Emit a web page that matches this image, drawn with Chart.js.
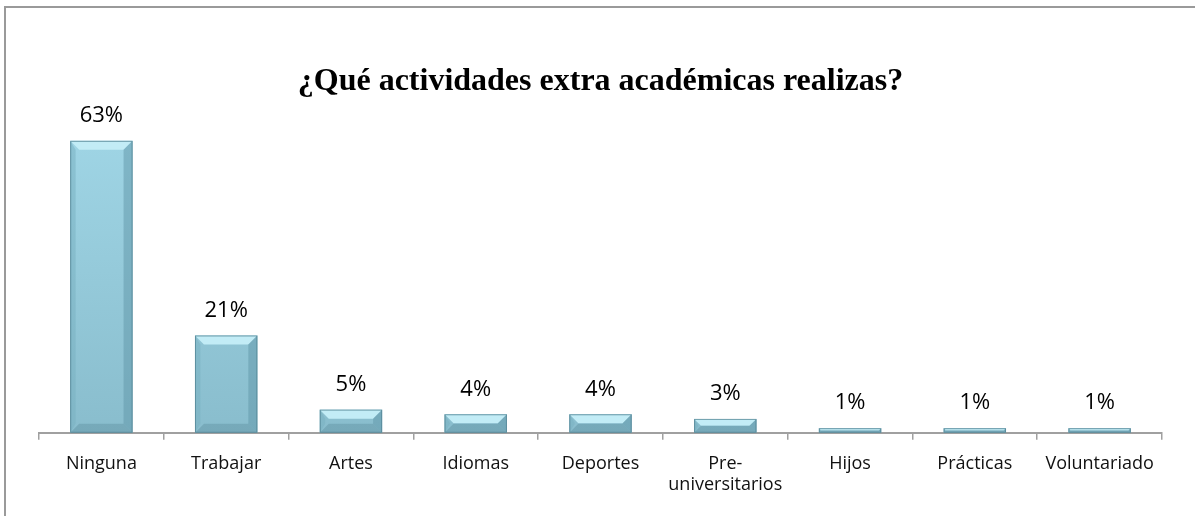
<!DOCTYPE html>
<html>
<head>
<meta charset="utf-8">
<script src="https://cdn.jsdelivr.net/npm/chart.js@4.4.1/dist/chart.umd.min.js"></script>
<style>
    html, body { margin: 0; padding: 0; background: #fff; overflow: hidden; }
    #wrap { position: relative; width: 1195px; height: 516px; }
    #frame { position: absolute; left: 4px; top: 6px; width: 1200px; height: 520px; border: 2px solid #9a9a9a; box-sizing: border-box; }
    canvas { position: absolute; left: 0; top: 0; }
</style>
</head>
<body>
<div id="wrap">
    <div id="frame"></div>
    <canvas id="chart" width="1195" height="516"></canvas>
</div>
<script>
// Actividades y porcentajes
const categories = ["Ninguna", "Trabajar", "Artes", "Idiomas", "Deportes", ["Pre-", "universitarios"], "Hijos", "Prácticas", "Voluntariado"];
const percentages = [63, 21, 5, 4, 4, 3, 1, 1, 1];
const yMax = 70;

const ctx = document.getElementById('chart').getContext('2d');

// Cara principal de la barra con degradado vertical
function faceColor(context) {
    const area = context.chart.chartArea;
    if (!area) return '#95cbdb';
    const g = context.chart.ctx.createLinearGradient(0, area.top, 0, area.bottom);
    g.addColorStop(0, '#a1d7e7');
    g.addColorStop(1, '#89bdcd');
    return g;
}

// Dibuja el biselado de cada barra y la etiqueta de porcentaje
const bevelPlugin = {
    id: 'bevel',
    afterDatasetsDraw(chart) {
        const c = chart.ctx;
        const meta = chart.getDatasetMeta(0);
        meta.data.forEach((bar, i) => {
            const l = bar.x - bar.width / 2;
            const r = bar.x + bar.width / 2;
            const t = bar.y;
            const b = bar.base;
            const h = b - t;
            const bv = Math.min(9, h / 2);

            c.save();
            // top facet
            c.fillStyle = '#c2ecf6';
            c.beginPath();
            c.moveTo(l, t); c.lineTo(r, t); c.lineTo(r - bv, t + bv); c.lineTo(l + bv, t + bv);
            c.closePath(); c.fill();
            // left facet
            c.fillStyle = 'rgba(120,175,192,0.5)';
            c.beginPath();
            c.moveTo(l, t); c.lineTo(l + bv * 0.6, t + bv); c.lineTo(l + bv * 0.6, b - bv); c.lineTo(l, b);
            c.closePath(); c.fill();
            // right facet
            c.fillStyle = 'rgba(95,150,168,0.5)';
            c.beginPath();
            c.moveTo(r, t); c.lineTo(r - bv, t + bv); c.lineTo(r - bv, b - bv); c.lineTo(r, b);
            c.closePath(); c.fill();
            // bottom facet
            c.fillStyle = 'rgba(100,150,166,0.5)';
            c.beginPath();
            c.moveTo(l, b); c.lineTo(l + bv, b - bv); c.lineTo(r - bv, b - bv); c.lineTo(r, b);
            c.closePath(); c.fill();
            // outline
            c.strokeStyle = 'rgba(80,130,145,0.75)';
            c.lineWidth = 1;
            c.strokeRect(l + 0.5, t + 0.5, r - l - 1, h - 1);
            c.restore();

            // value label
            c.save();
            c.fillStyle = '#000';
            c.font = '22px "Open Sans", sans-serif';
            c.textAlign = 'center';
            c.textBaseline = 'middle';
            c.fillText(percentages[i] + '%', bar.x, t - 25);
            c.restore();
        });
    }
};

const chart = new Chart(ctx, {
    type: 'bar',
    data: {
        labels: categories,
        datasets: [{
            data: percentages,
            backgroundColor: faceColor,
            borderWidth: 0,
            barPercentage: 0.5,
            categoryPercentage: 1.0
        }]
    },
    options: {
        responsive: false,
        animation: false,
        layout: {
            padding: { left: 39, right: 33, top: 0, bottom: 7 }
        },
        plugins: {
            legend: { display: false },
            tooltip: { enabled: false },
            title: {
                display: true,
                text: '¿Qué actividades extra académicas realizas?',
                color: '#000',
                font: { family: '"Liberation Serif", "Times New Roman", serif', size: 32, weight: 'bold', lineHeight: 1.2 },
                padding: { top: 63, bottom: 7 }
            }
        },
        scales: {
            y: {
                display: false,
                min: 0,
                max: yMax
            },
            x: {
                grid: {
                    offset: true,
                    drawOnChartArea: false,
                    drawTicks: true,
                    tickLength: 7,
                    tickColor: '#a0a0a0',
                    lineWidth: 1.5
                },
                border: { display: true, color: '#a0a0a0', width: 2 },
                ticks: {
                    color: '#111',
                    padding: 13,
                    font: { family: '"Open Sans", sans-serif', size: 18, lineHeight: 1.2 },
                    maxRotation: 0,
                    autoSkip: false
                }
            }
        }
    },
    plugins: [bevelPlugin]
});
</script>
</body>
</html>
